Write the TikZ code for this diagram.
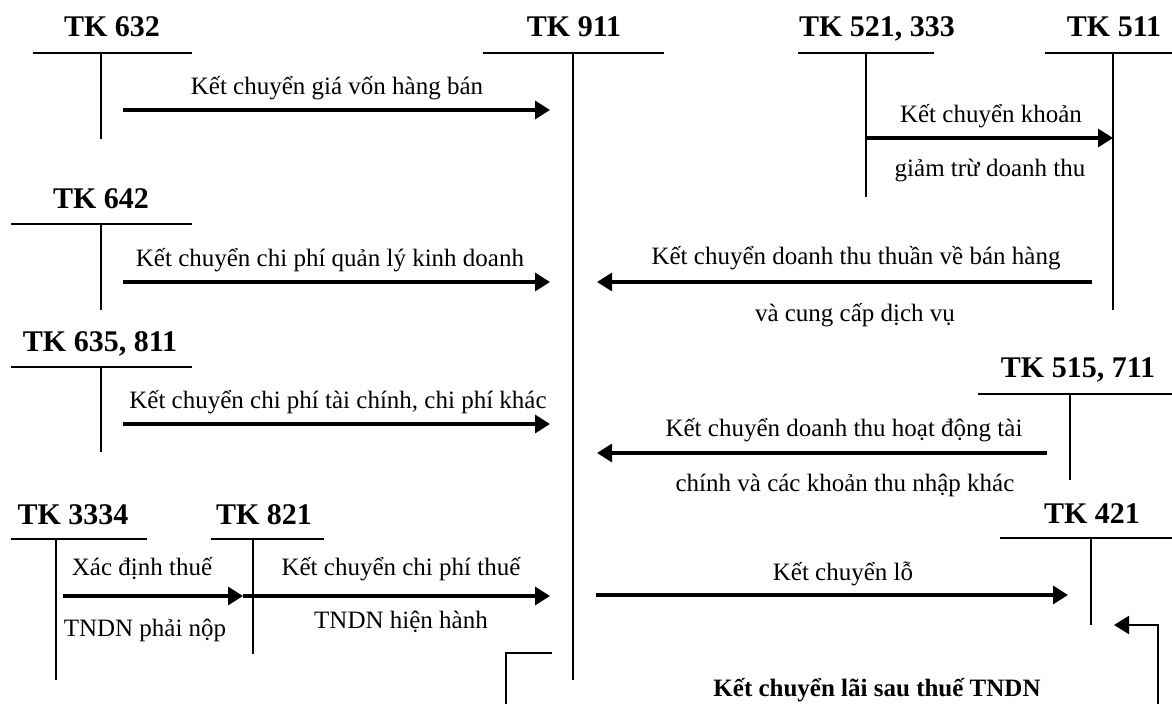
\documentclass[tikz,border=0pt]{standalone}
\usepackage{fontspec}
\setmainfont{Liberation Serif}
\usetikzlibrary{arrows.meta}
\begin{document}
\begin{tikzpicture}[x=0.5pt,y=-0.5pt,
  acct/.style={font=\fontsize{15}{18}\selectfont\bfseries, anchor=base, inner sep=0pt},
  lbl/.style={font=\fontsize{12.5}{15}\selectfont, anchor=base, inner sep=0pt},
  boldlbl/.style={lbl, font=\fontsize{12.5}{15}\selectfont\bfseries},
  tline/.style={line width=0.85pt},
  flow/.style={line width=1.6pt, -{Triangle[length=7.5pt,width=9pt]}},
  back/.style={line width=1.1pt, -{Triangle[length=7.5pt,width=9pt]}},
]
\useasboundingbox (0,0) rectangle (1172,704);

% ---- T-accounts: title, top rule, centre line ----
\node[acct] (t632) at (112,37) {TK 632};
\draw[tline] (33,53) -- (192,53) (101,53) -- (101,139);

\node[acct] (t642) at (101,209) {TK 642};
\draw[tline] (11,224) -- (192,224) (101,224) -- (101,310);

\node[acct] (t635) at (100,352) {TK 635, 811};
\draw[tline] (11,367) -- (192,367) (101,367) -- (101,452);

\node[acct] (t3334) at (73,525) {TK 3334};
\draw[tline] (11,539) -- (147,539) (56,539) -- (56,680);

\node[acct] (t821) at (264,525) {TK 821};
\draw[tline] (211,539) -- (324,539) (253,539) -- (253,654);

\node[acct] (t911) at (574,37) {TK 911};
\draw[tline] (483,53) -- (664,53) (573,53) -- (573,680);

\node[acct] (t521) at (877,37) {TK 521, 333};
\draw[tline] (798,53) -- (934,53) (866,53) -- (866,197);

\node[acct] (t511) at (1114,37) {TK 511};
\draw[tline] (1045,53) -- (1172,53) (1113,53) -- (1113,310);

\node[acct] (t515) at (1078,378) {TK 515, 711};
\draw[tline] (978,394) -- (1172,394) (1070,394) -- (1070,480);

\node[acct] (t421) at (1092,524) {TK 421};
\draw[tline] (1000,538) -- (1172,538) (1091,538) -- (1091,625);

% ---- connector end points ----
\coordinate (s632) at (123,110);  \coordinate (e632) at (550,110);
\coordinate (s642) at (123,282);  \coordinate (e642) at (550,282);
\coordinate (s635) at (123,424);  \coordinate (e635) at (550,424);
\coordinate (s3334) at (63,596);  \coordinate (e3334) at (243,596);
\coordinate (e821) at (550,596);
\coordinate (s521) at (866,138);  \coordinate (e521) at (1113,138);
\coordinate (s511) at (1092,282); \coordinate (e511) at (597,282);
\coordinate (s515) at (1047,453); \coordinate (e515) at (597,453);
\coordinate (s911) at (596,595);  \coordinate (e911) at (1068,595);
\coordinate (sprof) at (1158,704); \coordinate (kprof) at (1158,625);
\coordinate (eprof) at (1114,625);
\coordinate (b1) at (552,653); \coordinate (b2) at (506,653); \coordinate (b3) at (506,704);

% ---- closing entries ----
\draw[flow] (s632) -- (e632);
\node[lbl] (l632) at (337,95) {Kết chuyển giá vốn hàng bán};

\draw[flow] (s642) -- (e642);
\node[lbl] (l642) at (330,267) {Kết chuyển chi phí quản lý kinh doanh};

\draw[flow] (s635) -- (e635);
\node[lbl] (l635) at (338,409) {Kết chuyển chi phí tài chính, chi phí khác};

\draw[flow] (s3334) -- (e3334);
\node[lbl] (l3334a) at (142,576) {Xác định thuế};
\node[lbl] (l3334b) at (145,637) {TNDN phải nộp};

\draw[flow] (e3334) -- (e821);
\node[lbl] (l821a) at (401,576) {Kết chuyển chi phí thuế};
\node[lbl] (l821b) at (401,629) {TNDN hiện hành};

\draw[flow] (s521) -- (e521);
\node[lbl] (l521a) at (991,123) {Kết chuyển khoản};
\node[lbl] (l521b) at (990,177) {giảm trừ doanh thu};

\draw[flow] (s511) -- (e511);
\node[lbl] (l511a) at (856,265) {Kết chuyển doanh thu thuần về bán hàng};
\node[lbl] (l511b) at (855,322) {và cung cấp dịch vụ};

\draw[flow] (s515) -- (e515);
\node[lbl] (l515a) at (844,437) {Kết chuyển doanh thu hoạt động tài};
\node[lbl] (l515b) at (845,492) {chính và các khoản thu nhập khác};

\draw[flow] (s911) -- (e911);
\node[lbl] (l911) at (843,581) {Kết chuyển lỗ};

\draw[back] (sprof) -- (kprof) -- (eprof);
\draw[tline] (b1) -- (b2) -- (b3);
\node[boldlbl] (lprof) at (877,697) {Kết chuyển lãi sau thuế TNDN};
\end{tikzpicture}
\end{document}
